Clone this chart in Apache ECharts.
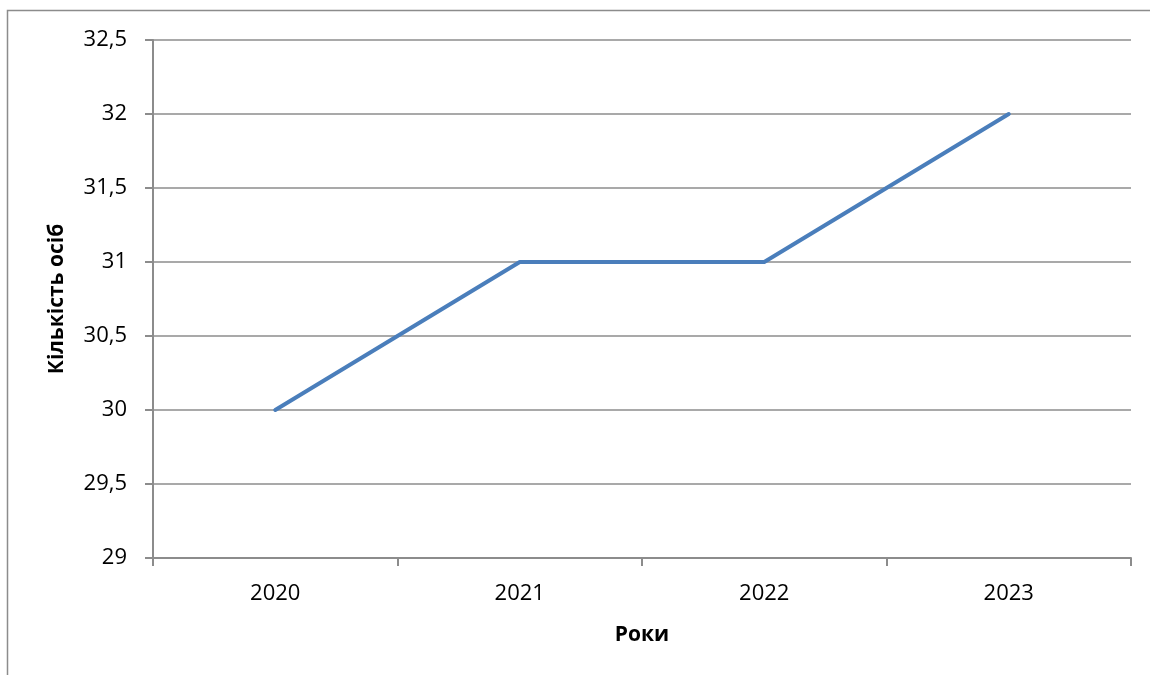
<!DOCTYPE html>
<html>
<head>
<meta charset="utf-8">
<script src="https://cdn.jsdelivr.net/npm/echarts@6/dist/echarts.min.js"></script>
<style>
  html, body { margin: 0; padding: 0; background: #fff; }
  #chart { width: 1150px; height: 675px; }
</style>
</head>
<body>
<div id="chart"></div>
<script>
// Years on the horizontal axis and the number of people per year
const years = ['2020', '2021', '2022', '2023'];
const people = [30, 31, 31, 32];

const xTitle = 'Роки';
const yTitle = 'Кількість осіб';

const gray = '#8c8c8c';
const font = '"Open Sans", "Noto Sans", sans-serif';

const chart = echarts.init(document.getElementById('chart'));
chart.setOption({
  animation: false,
  backgroundColor: '#fff',
  graphic: [{
    type: 'rect',
    shape: { x: 7.5, y: 10.5, width: 1200, height: 700 },
    style: { fill: 'none', stroke: gray, lineWidth: 1.5 },
    silent: true
  }],
  grid: { left: 153, right: 19, top: 40, bottom: 117 },
  xAxis: {
    type: 'category',
    data: years,
    boundaryGap: true,
    name: xTitle,
    nameLocation: 'middle',
    nameGap: 67,
    nameTextStyle: { fontFamily: font, fontSize: 21, fontWeight: 'bold', color: '#000' },
    axisLine: { lineStyle: { color: gray, width: 2 } },
    axisTick: { show: true, length: 8, alignWithLabel: false, lineStyle: { color: gray, width: 2 } },
    axisLabel: { fontFamily: font, fontSize: 22, color: '#000', margin: 25 }
  },
  yAxis: {
    type: 'value',
    min: 29,
    max: 32.5,
    interval: 0.5,
    name: yTitle,
    nameLocation: 'middle',
    nameGap: 85,
    nameRotate: 90,
    nameTextStyle: { fontFamily: font, fontSize: 21, fontWeight: 'bold', color: '#000' },
    axisLine: { show: true, lineStyle: { color: gray, width: 2 } },
    axisTick: { show: true, length: 8, lineStyle: { color: gray, width: 2 } },
    splitLine: { show: true, lineStyle: { color: gray, width: 1.5 } },
    axisLabel: {
      fontFamily: font, fontSize: 22, color: '#000', margin: 26,
      formatter: v => String(v).replace('.', ',')
    }
  },
  series: [{
    type: 'line',
    data: people,
    symbol: 'none',
    lineStyle: { color: '#4a7ebb', width: 4, cap: 'round', join: 'round' }
  }]
});
</script>
</body>
</html>
